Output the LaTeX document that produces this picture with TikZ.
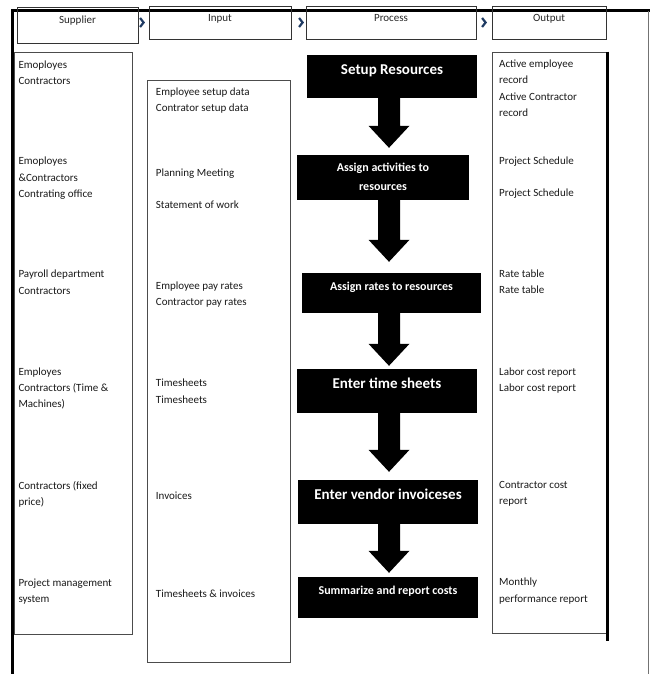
\documentclass[tikz,border=0pt]{standalone}
\usepackage{fontspec}
\setmainfont{Carlito}
\usepackage{tikz}
\usetikzlibrary{calc}
\definecolor{chevblue}{HTML}{1F3B63}

\tikzset{
  frame/.style={line width=3pt},
  headbox/.style={draw=black!80, line width=0.8pt, inner sep=0pt},
  colbox/.style={draw=black!70, line width=0.8pt, inner sep=0pt},
  procbox/.style={fill=black, inner sep=0pt},
  headtext/.style={anchor=base, inner sep=0pt, text=black!85, font=\fontsize{11}{13}\selectfont},
  coltext/.style={anchor=north west, yshift=7.6pt, inner sep=0pt, align=left,
    text=black!90, font=\fontsize{11}{16.3}\selectfont},
  proctext/.style={anchor=base, inner sep=0pt, text=white, font=\bfseries\fontsize{12}{19}\selectfont},
  bigtext/.style={proctext, font=\bfseries\fontsize{15}{18}\selectfont},
  twotext/.style={proctext, anchor=north, align=center, yshift=8.4pt},
  chev/.style={draw=chevblue, line width=2.2pt},
}

% block arrow from one process box to the next
\newcommand{\flowarrow}[3]{%
  \fill ($(#1.south -| ax)+(-11,0)$) -- ($(#2.north -| ax)+(-11,-#3-22)$) -- ++(-9.5,0)
    -- ($(#2.north -| ax)+(0,-#3)$) -- ($(#2.north -| ax)+(20.5,-#3-22)$) -- ++(-9.5,0)
    -- ($(#1.south -| ax)+(11,0)$) -- cycle;}

\begin{document}
\begin{tikzpicture}[x=1pt,y=-1pt]
    \useasboundingbox (0,0) rectangle (650,674);

    % outer frame
    \draw[frame] (12,674) -- (12,11) -- (650,11);
    \draw[black!55, line width=1pt] (648,11) -- (648,674);

    % header row
    \node[headbox, minimum width=121, minimum height=36] (suphead) at (77.5,25) {};
    \node[headbox, minimum width=142, minimum height=33] (inhead) at (220,22.5) {};
    \node[headbox, minimum width=170, minimum height=33] (prochead) at (391,22.5) {};
    \node[headbox, minimum width=114, minimum height=33] (outhead) at (549,22.5) {};

    \node[headtext] (suplbl) at ($(suphead.north)+(0,16.5)$) {Supplier};
    \node[headtext] (inlbl) at ($(inhead.north)+(0,15.5)$) {Input};
    \node[headtext] (proclbl) at ($(prochead.north)+(0,15.5)$) {Process};
    \node[headtext] (outlbl) at ($(outhead.north)+(0,15.5)$) {Output};

    \foreach \h/\d in {inhead/5, prochead/3, outhead/6}
        \draw[chev] ($(\h.west)+(-\d-3.5,-4.5)$) -- ++(3.5,4.5) -- ++(-3.5,4.5);

    % columns
    \node[colbox, minimum width=118, minimum height=582] (supcol) at (73,343) {};
    \node[colbox, minimum width=143, minimum height=582] (incol) at (218.5,371) {};
    \node[colbox, minimum width=114, minimum height=581] (outcol) at (549,342.5) {};
    \draw[line width=3pt] ($(outcol.north east)+(1.5,0)$) -- ($(outcol.south east)+(1.5,8)$);

    % supplier entries
    \node[coltext] (s1) at (18.3,68) {Emoployes\\Contractors};
    \node[coltext] (s2) at (18.3,164.7) {Emoployes\\\&Contractors\\Contrating office};
    \node[coltext] (s3) at (18.3,277.7) {Payroll department\\Contractors};
    \node[coltext] (s4) at (18.3,375) {Employes\\Contractors (Time \&\\Machines)};
    \node[coltext] (s5) at (18.3,488.7) {Contractors (fixed\\price)};
    \node[coltext] (s6) at (18.3,586) {Project management\\system};

    % input entries
    \node[coltext] (i1) at (155.7,95) {Employee setup data\\Contrator setup data};
    \node[coltext] (i2) at (155.7,176) {Planning Meeting};
    \node[coltext] (i3) at (155.7,208) {Statement of work};
    \node[coltext] (i4) at (155.7,289) {Employee pay rates\\Contractor pay rates};
    \node[coltext] (i5) at (155.7,386.7) {Timesheets\\Timesheets};
    \node[coltext] (i6) at (155.7,499.3) {Invoices};
    \node[coltext] (i7) at (155.7,597.3) {Timesheets \& invoices};

    % output entries
    \node[coltext] (o1) at (499,67.3) {Active employee\\record\\Active Contractor\\record};
    \node[coltext] (o2) at (499,164.3) {Project Schedule};
    \node[coltext] (o3) at (499,196.7) {Project Schedule};
    \node[coltext] (o4) at (499,277.3) {Rate table\\Rate table};
    \node[coltext] (o5) at (499,375) {Labor cost report\\Labor cost report};
    \node[coltext] (o6) at (499,488.3) {Contractor cost\\report};
    \node[coltext] (o7) at (499,585.7) {Monthly\\performance report};

    % process steps
    \node[procbox, minimum width=170, minimum height=43] (p1) at (392,76.5) {};
    \node[procbox, minimum width=172, minimum height=45] (p2) at (383,177.5) {};
    \node[procbox, minimum width=179, minimum height=40] (p3) at (391.5,293) {};
    \node[procbox, minimum width=180, minimum height=44] (p4) at (387,391) {};
    \node[procbox, minimum width=180, minimum height=44] (p5) at (388,502) {};
    \node[procbox, minimum width=180, minimum height=41] (p6) at (388,597.5) {};

    \node[bigtext] (pt1) at ($(p1.north)+(0,20)$) {Setup Resources};
    \node[twotext] (pt2) at ($(p2.north)+(0,16.7)$) {Assign activities to\\resources};
    \node[proctext] (pt3) at ($(p3.north)+(0,18)$) {Assign rates to resources};
    \node[bigtext] (pt4) at ($(p4.north)+(0,19.3)$) {Enter time sheets};
    \node[bigtext] (pt5) at ($(p5.north)+(0,20)$) {Enter vendor invoiceses};
    \node[proctext] (pt6) at ($(p6.north)+(0,18)$) {Summarize and report costs};

    % arrows between steps
    \coordinate (ax) at (389,0);
    \flowarrow{p1}{p2}{7}
    \flowarrow{p2}{p3}{11}
    \flowarrow{p3}{p4}{3}
    \flowarrow{p4}{p5}{8}
    \flowarrow{p5}{p6}{4}

\end{tikzpicture}
\end{document}
